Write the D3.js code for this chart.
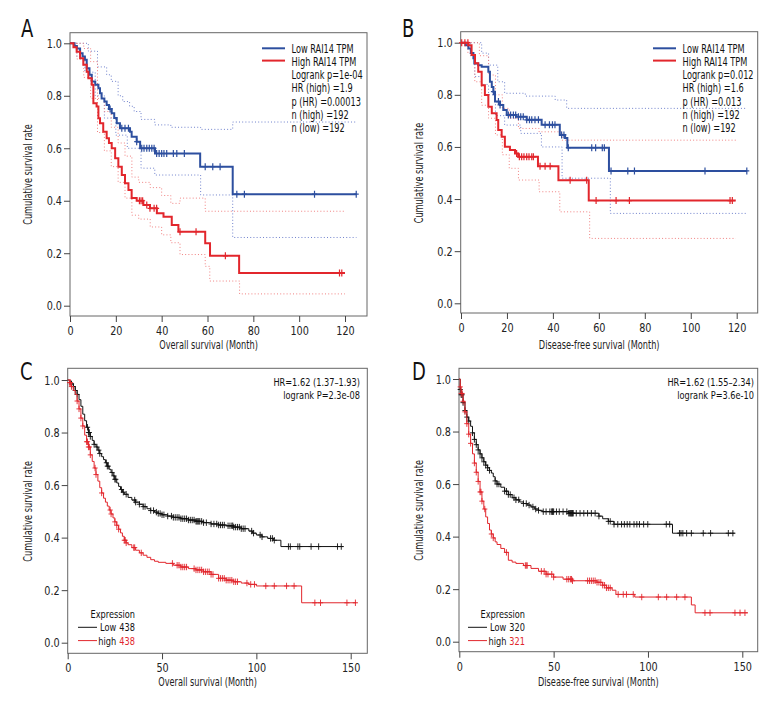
<!DOCTYPE html>
<html>
<head>
<meta charset="utf-8">
<script src="https://cdn.jsdelivr.net/npm/d3@7"></script>
<style>
body { margin: 0; background: #fff; }
text { font-family: "Liberation Sans Narrow", "DejaVu Sans Condensed", "Roboto", sans-serif; }
</style>
</head>
<body>
<svg width="780" height="720"></svg>
<script>
// ---- data: [month, survival] steps, CI steps, censor times ----
const xTicksAB = [0, 20, 40, 60, 80, 100, 120];
const xTicksCD = [0, 50, 100, 150];
const yTicks = [0, 0.2, 0.4, 0.6, 0.8, 1.0];

// Panel A (overall survival, TCGA)
const aLow = [[0,1],[2,0.99],[3,0.98],[4.4,0.962],[5.5,0.95],[6.5,0.937],[7.3,0.905],[8.5,0.88],[9.5,0.854],[11,0.842],[12.4,0.829],[13.1,0.81],[13.8,0.79],[15,0.778],[16,0.765],[17,0.75],[18.2,0.733],[19.3,0.715],[20.4,0.695],[21.8,0.676],[26.2,0.663],[26.9,0.644],[29.1,0.625],[30.6,0.6],[37.1,0.58],[56.8,0.53],[71,0.425],[125,0.425]];
const aLowUp = [[0,1],[5,1],[8,0.97],[12,0.91],[16,0.88],[18,0.855],[21,0.8],[23,0.778],[26,0.76],[28,0.74],[31,0.71],[37,0.689],[44,0.68],[57,0.672],[71,0.7],[125,0.7]];
const aLowLo = [[0,1],[3,0.95],[6.5,0.89],[11,0.8],[15,0.715],[20,0.65],[25,0.6],[31,0.524],[37,0.498],[57,0.422],[71,0.26],[125,0.26]];
const aLowCens = [17.5,22.6,24,25.5,29.1,31.3,32.3,33.5,34.6,35.7,36.7,37.8,38.9,40,41,42.2,45.1,46.6,49.9,59,62.3,65.5,72.8,76.1,106.7,124.9];
const aHigh = [[0,1],[1.5,0.985],[2.9,0.968],[4.4,0.943],[5.8,0.918],[7.3,0.892],[8,0.867],[9.5,0.842],[10.2,0.772],[11.6,0.759],[12.4,0.714],[13.1,0.695],[14.5,0.663],[16,0.638],[17,0.62],[18.2,0.6],[19.7,0.562],[21.1,0.53],[22.6,0.498],[24,0.467],[25.5,0.441],[26.9,0.41],[29.1,0.4],[32,0.384],[34.9,0.371],[37.9,0.352],[40.8,0.339],[44.4,0.308],[47.3,0.282],[59,0.238],[61.1,0.19],[73.8,0.125],[120,0.125]];
const aHighUp = [[0,1],[3,1],[6,0.98],[9,0.93],[12,0.79],[15,0.74],[18,0.68],[21,0.62],[24,0.57],[27,0.49],[30,0.47],[35,0.45],[40,0.42],[44,0.39],[48,0.41],[59,0.36],[120,0.36]];
const aHighLo = [[0,1],[3,0.94],[6,0.87],[9,0.79],[12,0.66],[15,0.59],[18,0.53],[21,0.47],[24,0.41],[27,0.345],[30,0.33],[35,0.3],[40,0.27],[44,0.24],[48,0.195],[59,0.15],[61,0.094],[74,0.045],[120,0.045]];
const aHighCens = [30.3,31,31.7,33.5,34.9,36.7,37.8,48,55,67.8,117.6,118.6];
const legendA = ["Low RAI14 TPM", "High RAI14 TPM", "Logrank p=1e-04", "HR (high) =1.9", "p (HR) =0.00013", "n (high) =192", "n (low) =192"];

// Panel B (disease-free survival, TCGA)
const bLow = [[0,1],[2,0.99],[3.2,0.978],[4.3,0.96],[5.4,0.94],[5.8,0.92],[7.5,0.913],[9,0.908],[11.9,0.889],[12.6,0.85],[13.4,0.83],[14.1,0.812],[14.8,0.774],[17,0.761],[18.4,0.742],[19.9,0.723],[24,0.716],[28.6,0.704],[35.1,0.685],[43,0.646],[45.3,0.634],[46.3,0.597],[64.4,0.508],[124.5,0.508]];
const bLowUp = [[0,1],[5,1],[9,0.96],[12,0.914],[16,0.85],[19,0.806],[28,0.795],[41,0.78],[46,0.748],[124.5,0.748]];
const bLowLo = [[0,1],[4,0.95],[6,0.87],[9,0.84],[12,0.8],[15,0.72],[19,0.684],[26,0.652],[35,0.6],[44,0.48],[65,0.345],[124.5,0.345]];
const bLowCens = [14.1,16.3,17,20.6,21.6,22.8,23.8,25,26,27.1,28.6,29.8,30.8,32.2,33.7,36.6,38.5,39.8,40.9,43.8,44.8,46.7,56.9,58.6,61.5,62.4,65.3,72.6,75.5,106.2,124.4];
const bHigh = [[0,1],[3.2,0.99],[4.6,0.953],[6.1,0.921],[7.5,0.889],[9,0.837],[10.4,0.799],[11.9,0.754],[13.4,0.729],[15.5,0.703],[16.2,0.665],[17.7,0.639],[19.1,0.601],[21.3,0.588],[23.5,0.575],[24.9,0.562],[33.5,0.526],[42.4,0.472],[55.6,0.394],[119.6,0.394]];
const bHighUp = [[0,1],[5,1],[8,0.95],[12,0.876],[15,0.8],[18,0.748],[21,0.71],[25,0.671],[34,0.658],[44,0.626],[119.6,0.626]];
const bHighLo = [[0,1],[3,0.96],[6,0.85],[9,0.76],[12,0.71],[15,0.646],[18,0.57],[21,0.518],[25,0.473],[34,0.428],[43,0.351],[56,0.249],[119.6,0.249]];
const bHighCens = [0.3,1.7,3,24.2,25.4,26.4,27.4,28.6,29.6,30.8,31.5,34.4,36.6,38.8,47.5,54.7,58.8,67.5,73.3,117.1,118.1];
const legendB = ["Low RAI14 TPM", "High RAI14 TPM", "Logrank p=0.012", "HR (high) =1.6", "p (HR) =0.013", "n (high) =192", "n (low) =192"];

// Panel C (overall survival, KM plotter)
const cLow = [[0,1],[1,0.995],[2,0.985],[3,0.975],[4,0.96],[5,0.945],[6,0.925],[7,0.9],[8,0.87],[9,0.845],[10,0.82],[11,0.8],[12,0.785],[13,0.77],[14,0.755],[15,0.745],[16,0.733],[17,0.72],[18,0.708],[19,0.697],[20,0.685],[21,0.672],[22,0.66],[23,0.648],[24,0.635],[25,0.622],[26,0.608],[27,0.595],[28,0.583],[29,0.573],[30,0.565],[32,0.553],[34,0.543],[36,0.535],[38,0.527],[40,0.518],[42,0.51],[44,0.503],[46,0.497],[48,0.492],[50,0.487],[53,0.482],[56,0.477],[60,0.472],[64,0.467],[68,0.462],[72,0.457],[76,0.452],[80,0.448],[84,0.445],[88,0.44],[92,0.434],[96,0.425],[98,0.417],[100,0.41],[103,0.403],[106,0.397],[109,0.39],[113,0.366],[146,0.366]];
const cLowCens = [2,3,4,5,10.5,11,11.5,12,14,15.5,16.5,17,20.5,21,21.5,23.5,24.5,25,25.5,28.5,29.5,31,35.5,36,38,40,41,44,45.5,47,48,49,50,51,53,55,56,57,58,59,60,61,62,63,64,65,66,67,68,68.5,69,69.5,70,71,72,73.5,76,77.5,79,80,81,82,83,85,86,87,87.5,88,89,90,91,92,93,94,97.5,98.5,102,103,107.5,108.5,109.5,117,118,122,123,129,133,143,145];
const cHigh = [[0,1],[1,0.99],[2,0.975],[3,0.96],[4,0.945],[5,0.92],[6,0.89],[7,0.855],[8,0.825],[9,0.79],[10,0.765],[11,0.745],[12,0.715],[13,0.69],[14,0.665],[15,0.64],[16,0.615],[17,0.59],[18,0.57],[19,0.55],[20,0.535],[21,0.52],[22,0.505],[23,0.49],[24,0.475],[25,0.46],[26,0.447],[27,0.432],[28,0.418],[29,0.405],[30,0.39],[31,0.38],[32,0.373],[34,0.362],[36,0.352],[38,0.342],[40,0.333],[42,0.325],[44,0.316],[46,0.31],[48,0.306],[52,0.302],[56,0.295],[60,0.288],[64,0.282],[68,0.277],[72,0.27],[76,0.26],[80,0.245],[84,0.238],[88,0.232],[92,0.227],[96,0.222],[100,0.216],[124,0.152],[153,0.152]];
const cHighCens = [1,1.5,2,5,6,7,8,10,10.5,11,11.5,12,14.5,15,18,22.5,23,25,26,27,30,30.5,31,35,35.5,39,55.5,58,59,60,61,62,63,67,68,69,70,71,72,73,74,75,76,77,80,81,82,83,84,85,86,87,88,89,90,95,97,99,105,109.5,116,120,131,134,148,152.5];

// Panel D (disease-free survival, KM plotter)
const dLow = [[0,1],[0.5,0.96],[1,0.94],[2,0.91],[3,0.88],[4,0.855],[5,0.84],[6,0.82],[7,0.795],[8,0.77],[9,0.75],[10,0.73],[11,0.715],[12,0.7],[13,0.685],[14,0.672],[15,0.662],[16,0.652],[17,0.642],[18,0.628],[19,0.612],[20,0.6],[22,0.588],[24,0.573],[26,0.56],[28,0.548],[30,0.54],[32,0.532],[34,0.526],[36,0.52],[38,0.513],[40,0.505],[42,0.5],[44,0.495],[58,0.489],[74,0.478],[76,0.468],[79,0.458],[82,0.447],[113,0.413],[146,0.413]];
const dLowCens = [0.5,1,1.5,2,3,4,5,7,8,9,10,11,12,13,14,15,16,19,20,21,24,25,26,27,29,30,31.5,34,35.5,37,39,40.5,42,44.5,46,48,49,49.3,49.6,50,51.5,53,55,57,58,58.5,59,59.3,59.6,60,60.4,62,64,66,68,70,72,74,79,80,82,84,86,87.5,89,90.4,92.6,94.1,95.5,97.7,99.9,109.7,111.5,116.7,117.5,118.5,120.5,123,129.3,133.2,142.6,145];
const dHigh = [[0,1],[0.5,0.97],[1,0.945],[2,0.915],[3,0.875],[4,0.83],[5,0.79],[6,0.755],[7,0.715],[8,0.68],[9,0.645],[10,0.61],[11,0.57],[12,0.535],[13,0.505],[14,0.475],[15,0.45],[16,0.425],[17,0.41],[18,0.395],[19,0.38],[20,0.37],[22,0.355],[24,0.34],[26,0.31],[28,0.303],[30,0.298],[34,0.29],[38,0.279],[42,0.268],[46,0.257],[50,0.246],[55,0.238],[60,0.232],[73,0.226],[76,0.215],[78,0.205],[81,0.196],[83,0.18],[93,0.17],[123,0.14],[125,0.11],[153,0.11]];
const dHighCens = [0.5,1,1.5,2,3,4,5,6,8,9,10,11,11.5,12,13.5,17,18,25,35,35.5,36,43.5,45,46,47,49,50,57,58,59,59.5,60,68,69,70,71,72,73,74,75,76,77,78,79,80,84.2,86.9,88.6,92.2,96.7,105.5,109.9,115.2,119.6,130.2,132.9,146.1,148.8,151.4];

const blue = "#2d4f9f", red = "#e2262c", blueCI = "#6f80cc", redCI = "#f08080";
const NARROW = 0.76;
const svg = d3.select("svg");

function stepAt(curve, t) {
  const i = d3.bisector(d => d[0]).right(curve, t) - 1;
  return curve[Math.max(0, i)][1];
}

// the source uses a condensed face: draw labels squeezed horizontally
function label(g, x, y, str, opt = {}) {
  const k = opt.k || NARROW;
  const rot = opt.rotate ? " rotate(-90)" : "";
  return g.append("text")
    .attr("transform", `translate(${x},${y})${rot} scale(${k},1)`)
    .attr("text-anchor", opt.anchor || "start")
    .attr("font-size", opt.size || 12)
    .attr("fill", opt.fill || "#111")
    .text(str);
}

const panels = [
  { letter: "A", lx: 21, ly: 37, box: [70, 32.7, 367, 316], xd: [0, 120], xr: [70, 345], yr: [305.7, 43.3], xt: xTicksAB,
    xTitle: "Overall survival (Month)", yTitleX: 32, xTitleY: 349, style: "tcga", legend: legendA, legX: 262,
    series: [
      { curve: aLow, up: aLowUp, lo: aLowLo, cens: aLowCens, color: blue, ci: blueCI },
      { curve: aHigh, up: aHighUp, lo: aHighLo, cens: aHighCens, color: red, ci: redCI }] },
  { letter: "B", lx: 402, ly: 37, box: [460.7, 31.7, 757.7, 313], xd: [0, 120], xr: [461, 736.7], yr: [303.3, 42.7], xt: xTicksAB,
    xTitle: "Disease-free survival (Month)", yTitleX: 423, xTitleY: 349, style: "tcga", legend: legendB, legX: 653,
    series: [
      { curve: bLow, up: bLowUp, lo: bLowLo, cens: bLowCens, color: blue, ci: blueCI },
      { curve: bHigh, up: bHighUp, lo: bHighLo, cens: bHighCens, color: red, ci: redCI }] },
  { letter: "C", lx: 20, ly: 380, box: [67.7, 368.3, 367.3, 653.3], xd: [0, 150], xr: [67.7, 350.7], yr: [642.7, 380], xt: xTicksCD,
    xTitle: "Overall survival (Month)", yTitleX: 32, xTitleY: 686, style: "kmp",
    hr: ["HR=1.62 (1.37\u20131.93)", "logrank P=2.3e-08"], hrX: 360, nLow: "438", nHigh: "438", legX: 135,
    series: [
      { curve: cLow, cens: cLowCens, color: "#111" },
      { curve: cHigh, cens: cHighCens, color: red }] },
  { letter: "D", lx: 412, ly: 380, box: [459, 368.3, 757.7, 651.7], xd: [0, 150], xr: [459.3, 742.3], yr: [641.7, 379], xt: xTicksCD,
    xTitle: "Disease-free survival (Month)", yTitleX: 423, xTitleY: 686, style: "kmp",
    hr: ["HR=1.62 (1.55\u20132.34)", "logrank P=3.6e-10"], hrX: 754, nLow: "320", nHigh: "321", legX: 525,
    series: [
      { curve: dLow, cens: dLowCens, color: "#111" },
      { curve: dHigh, cens: dHighCens, color: red }] }
];

panels.forEach(p => {
  const g = svg.append("g");
  const x = d3.scaleLinear().domain(p.xd).range(p.xr);
  const y = d3.scaleLinear().domain([0, 1]).range(p.yr);
  const [bx0, by0, bx1, by1] = p.box;
  const line = d3.line().x(d => x(d[0])).y(d => y(d[1])).curve(d3.curveStepAfter);
  const tcga = p.style === "tcga";

  label(g, p.lx, p.ly, p.letter, { size: 25, k: 0.8 });

  g.append("rect").attr("x", bx0).attr("y", by0).attr("width", bx1 - bx0).attr("height", by1 - by0)
    .attr("fill", "none").attr("stroke", "#666").attr("stroke-width", 1);

  const xa = g.append("g").attr("transform", `translate(0,${by1})`)
    .call(d3.axisBottom(x).tickValues(p.xt).tickSize(6).tickPadding(4).tickFormat(d3.format("d")));
  xa.select(".domain").remove();
  xa.attr("font-size", 12.5);
  xa.selectAll("line").attr("stroke", "#444");
  xa.selectAll("text").attr("fill", "#222").attr("transform", "scale(0.86,1)");

  const ya = g.append("g").attr("transform", `translate(${bx0},0)`)
    .call(d3.axisLeft(y).tickValues(yTicks).tickSize(6).tickPadding(2).tickFormat(d3.format(".1f")));
  ya.select(".domain").remove();
  ya.attr("font-size", 12.5);
  ya.selectAll("line").attr("stroke", "#444");
  ya.selectAll("text").attr("fill", "#222").attr("x", -8 / 0.86).attr("transform", "scale(0.86,1)");

  label(g, p.yTitleX, (p.yr[0] + p.yr[1]) / 2, "Cumulative survival rate", { rotate: true, anchor: "middle", fill: "#222" });
  label(g, (bx0 + bx1) / 2 - 10, p.xTitleY, p.xTitle, { anchor: "middle", fill: "#222" });

  if (tcga) {
    p.series.forEach(s => {
      [s.up, s.lo].forEach(ci => g.append("path").attr("d", line(ci)).attr("fill", "none")
        .attr("stroke", s.ci).attr("stroke-width", 1).attr("stroke-dasharray", "1,2.2"));
    });
  }

  p.series.forEach(s => {
    g.append("path").attr("d", line(s.curve)).attr("fill", "none")
      .attr("stroke", s.color).attr("stroke-width", tcga ? 2 : 1);
    const mk = tcga ? 3.5 : 3.2, mh = tcga ? 2.5 : 2.6;
    g.append("g").selectAll("path").data(s.cens).join("path")
      .attr("d", t => {
        const cx = x(t), cy = y(stepAt(s.curve, t));
        return `M${cx},${cy - mk}V${cy + mk}M${cx - mh},${cy}H${cx + mh}`;
      })
      .attr("stroke", s.color).attr("stroke-width", tcga ? 1.2 : 0.9).attr("fill", "none");
  });

  if (tcga) {
    const ly0 = 48.3, step = 13.33;
    p.series.forEach((s, i) => {
      g.append("line").attr("x1", p.legX).attr("x2", p.legX + 23).attr("y1", ly0 + i * 12.3).attr("y2", ly0 + i * 12.3)
        .attr("stroke", s.color).attr("stroke-width", 2);
    });
    p.legend.forEach((t, i) => label(g, p.legX + 29.5, ly0 + 4.2 + i * step, t));
  } else {
    // smaller face here so the tightly stacked rows do not collide
    const small = { size: 11, k: 0.83 };
    p.hr.forEach((t, i) => label(g, p.hrX, by0 + 17.3 + i * 13, t, { ...small, anchor: "end" }));
    label(g, p.legX, 618, "Expression", { ...small, anchor: "end" });
    const rows = [["Low", p.nLow, "#111"], ["high", p.nHigh, red]];
    rows.forEach((r, i) => {
      const yy = 627.3 + i * 13.3;
      g.append("line").attr("x1", p.legX - 57).attr("x2", p.legX - 38).attr("y1", yy).attr("y2", yy)
        .attr("stroke", p.series[i].color).attr("stroke-width", 1);
      const num = label(g, p.legX, yy + 4, r[1], { ...small, anchor: "end", fill: r[2] });
      const nw = num.node().getBoundingClientRect().width;
      label(g, p.legX - nw - 3, yy + 4, r[0], { ...small, anchor: "end" });
    });
  }
});
</script>
</body>
</html>
